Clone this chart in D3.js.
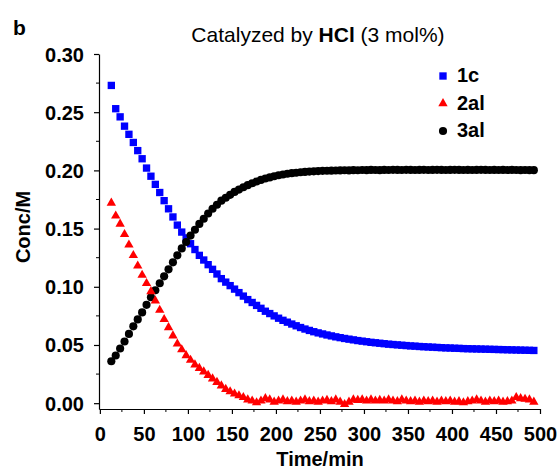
<!DOCTYPE html>
<html>
<head>
<meta charset="utf-8">
<script src="https://cdn.jsdelivr.net/npm/d3@7"></script>
<style>
  body { margin: 0; background: #fff; }
  text { font-family: "Liberation Sans", Arial, Helvetica, sans-serif; }
</style>
</head>
<body>
<script>
var width = 559,
    height = 469;

// sampling times (min)
var times = [13, 18, 23, 28, 33, 38, 43, 48, 53, 58, 63, 68, 73, 78, 83, 88, 93, 98,
  103, 108, 113, 118, 123, 128, 133, 138, 143, 148, 153, 158, 163, 168, 173, 178,
  183, 188, 193, 198, 203, 208, 213, 218, 223, 228, 233, 238, 243, 248, 253, 258,
  263, 268, 273, 278, 283, 288, 293, 298, 303, 308, 313, 318, 323, 328, 333, 338,
  343, 348, 353, 358, 363, 368, 373, 378, 383, 388, 393, 398, 403, 408, 413, 418,
  423, 428, 433, 438, 443, 448, 453, 458, 463, 468, 473, 478, 483, 488, 493];

// 1c (blue squares)
var conc1c = [0.273, 0.253, 0.246, 0.238, 0.231, 0.224, 0.217, 0.210, 0.202, 0.195,
  0.188, 0.181, 0.174, 0.167, 0.160, 0.153, 0.147, 0.142, 0.137, 0.132, 0.127, 0.123,
  0.119, 0.115, 0.111, 0.107, 0.104, 0.101, 0.098, 0.095, 0.092, 0.089, 0.0865, 0.084,
  0.0815, 0.079, 0.077, 0.075, 0.073, 0.0712, 0.0696, 0.068, 0.0665, 0.065, 0.0637,
  0.0625, 0.0614, 0.0604, 0.0595, 0.0586, 0.0578, 0.057, 0.0563, 0.0556, 0.055, 0.0544,
  0.0538, 0.0533, 0.0528, 0.0523, 0.0519, 0.0515, 0.0511, 0.0507, 0.0504, 0.0501,
  0.0498, 0.0495, 0.0492, 0.049, 0.0487, 0.0485, 0.0483, 0.0481, 0.0479, 0.0477,
  0.0475, 0.0474, 0.0472, 0.0471, 0.0469, 0.0468, 0.0467, 0.0466, 0.0465, 0.0464,
  0.0463, 0.0462, 0.0461, 0.046, 0.0459, 0.0458, 0.0457, 0.0456, 0.0455, 0.0454, 0.0453];

// 2al (red triangles)
var conc2al = [0.172, 0.161, 0.154, 0.145, 0.136, 0.127, 0.118, 0.110, 0.103, 0.096,
  0.088, 0.080, 0.072, 0.065, 0.058, 0.051, 0.046, 0.041, 0.037, 0.033, 0.030, 0.027,
  0.024, 0.021, 0.018, 0.015, 0.012, 0.010, 0.008, 0.0065, 0.005, 0.003, 0.002, 0.0005,
  0.002, 0.004, 0.003, 0.001, 0.002, 0.003, 0.0015, 0.002, 0.001, 0.002, 0.003, 0.0015,
  0.002, 0.001, 0.002, 0.0025, 0.0015, 0.003, 0.001, -0.001, 0.001, 0.003, 0.0025, 0.003,
  0.002, 0.003, 0.002, 0.0025, 0.002, 0.003, 0.002, 0.0015, 0.003, 0.002, 0.0015, 0.002,
  0.001, 0.002, 0.0015, 0.002, 0.001, 0.002, 0.0015, 0.002, 0.001, 0.0015, 0.0005, 0.0015,
  0.002, 0.003, 0.002, 0.001, 0.002, 0.0015, 0.002, 0.001, 0.0015, 0.002, 0.005, 0.004,
  0.0035, 0.003, 0.001];

// 3al (black circles)
var conc3al = [0.036, 0.041, 0.047, 0.053, 0.0595, 0.066, 0.072, 0.078, 0.0845, 0.091,
  0.097, 0.103, 0.109, 0.115, 0.121, 0.127, 0.133, 0.1385, 0.144, 0.149, 0.154, 0.1585,
  0.163, 0.167, 0.1705, 0.174, 0.1765, 0.179, 0.1815, 0.1835, 0.1855, 0.1873, 0.189,
  0.1905, 0.1918, 0.193, 0.194, 0.195, 0.1958, 0.1965, 0.1971, 0.1976, 0.198, 0.1984,
  0.1987, 0.199, 0.1992, 0.1994, 0.1996, 0.1997, 0.1998, 0.1999, 0.2, 0.2001, 0.2,
  0.2002, 0.2001, 0.2003, 0.2002, 0.2004, 0.2003, 0.2002, 0.2004, 0.2003, 0.2005,
  0.2004, 0.2003, 0.2005, 0.2004, 0.2003, 0.2004, 0.2005, 0.2003, 0.2004, 0.2005,
  0.2004, 0.2003, 0.2004, 0.2005, 0.2004, 0.2003, 0.2004, 0.2003, 0.2004, 0.2005,
  0.2004, 0.2003, 0.2004, 0.2003, 0.2004, 0.2003, 0.2004, 0.2003, 0.2002, 0.2003,
  0.2002, 0.2002];

var xTicks = [0, 50, 100, 150, 200, 250, 300, 350, 400, 450, 500];
var yTicks = [0.00, 0.05, 0.10, 0.15, 0.20, 0.25, 0.30];
var seriesNames = ["1c", "2al", "3al"];

var svg = d3.select("body").append("svg")
    .attr("width", width)
    .attr("height", height);

svg.append("rect").attr("width", width).attr("height", height).attr("fill", "#fff");

var x = d3.scaleLinear().domain([-1, 500]).range([99, 540]);
var y = d3.scaleLinear().domain([-0.005, 0.30]).range([409, 54]);

// minor ticks
var xMinor = d3.range(25, 500, 50);
var yMinor = d3.range(0.025, 0.30, 0.05);

var xAxis = svg.append("g")
    .attr("transform", "translate(0," + y.range()[0] + ")")
    .call(d3.axisBottom(x).tickValues(xTicks).tickSize(5).tickSizeOuter(0).tickFormat(d3.format("d")));
xAxis.append("g").selectAll("line")
    .data(xMinor)
  .enter().append("line")
    .attr("x1", function(d) { return x(d); })
    .attr("x2", function(d) { return x(d); })
    .attr("y1", 0).attr("y2", 3)
    .attr("stroke", "#000");

var yAxis = svg.append("g")
    .attr("transform", "translate(" + x.range()[0] + ",0)")
    .call(d3.axisLeft(y).tickValues(yTicks).tickSize(5).tickSizeOuter(0).tickFormat(d3.format(".2f")));
yAxis.append("g").selectAll("line")
    .data(yMinor)
  .enter().append("line")
    .attr("y1", function(d) { return y(d); })
    .attr("y2", function(d) { return y(d); })
    .attr("x1", 0).attr("x2", -3)
    .attr("stroke", "#000");

svg.selectAll(".domain").attr("stroke", "#000").attr("stroke-width", 1.2);
svg.selectAll(".tick line").attr("stroke", "#000").attr("stroke-width", 1.2);

xAxis.selectAll(".tick text")
    .attr("font-size", 20).attr("font-weight", "bold").attr("fill", "#000")
    .attr("dy", null).attr("y", 32);
yAxis.selectAll(".tick text")
    .attr("font-size", 20).attr("font-weight", "bold").attr("fill", "#000")
    .attr("x", -15).attr("dy", "0.35em");

// axis titles
svg.append("text")
    .attr("x", 320).attr("y", 466)
    .attr("text-anchor", "middle")
    .attr("font-size", 20).attr("font-weight", "bold")
    .text("Time/min");

svg.append("text")
    .attr("transform", "translate(30,227) rotate(-90)")
    .attr("text-anchor", "middle")
    .attr("font-size", 20).attr("font-weight", "bold")
    .text("Conc/M");

// panel letter and title
svg.append("text")
    .attr("x", 13).attr("y", 35)
    .attr("font-size", 21).attr("font-weight", "bold")
    .text("b");

var title = svg.append("text")
    .attr("x", 318).attr("y", 42)
    .attr("text-anchor", "middle")
    .attr("font-size", 21);
title.append("tspan").text("Catalyzed by ");
title.append("tspan").attr("font-weight", "bold").text("HCl");
title.append("tspan").text(" (3 mol%)");

// markers
var squareSym = d3.symbol().type(d3.symbolSquare).size(54);
var triSym = d3.symbol().type(d3.symbolTriangle).size(38);
var circSym = d3.symbol().type(d3.symbolCircle).size(52);

var plot = svg.append("g");

plot.selectAll(".s1c")
    .data(times)
  .enter().append("path")
    .attr("class", "s1c")
    .attr("d", squareSym)
    .attr("fill", "#0000ff")
    .attr("transform", function(d, i) { return "translate(" + x(d) + "," + y(conc1c[i]) + ")"; });

plot.selectAll(".s3al")
    .data(times)
  .enter().append("path")
    .attr("class", "s3al")
    .attr("d", circSym)
    .attr("fill", "#000")
    .attr("transform", function(d, i) { return "translate(" + x(d) + "," + y(conc3al[i]) + ")"; });

plot.selectAll(".s2al")
    .data(times)
  .enter().append("path")
    .attr("class", "s2al")
    .attr("d", triSym)
    .attr("fill", "#ff0000")
    .attr("transform", function(d, i) { return "translate(" + x(d) + "," + y(conc2al[i]) + ")"; });

// legend
var legendColors = ["#0000ff", "#ff0000", "#000"];
var legendSyms = [squareSym, triSym, circSym];
var legend = svg.append("g");
seriesNames.forEach(function(name, i) {
  var ly = 76 + i * 27.5;
  legend.append("path")
      .attr("d", legendSyms[i])
      .attr("fill", legendColors[i])
      .attr("transform", "translate(443," + ly + ")");
  legend.append("text")
      .attr("x", 457).attr("y", ly + 6)
      .attr("font-size", 20).attr("font-weight", "bold")
      .text(name);
});
</script>
</body>
</html>
